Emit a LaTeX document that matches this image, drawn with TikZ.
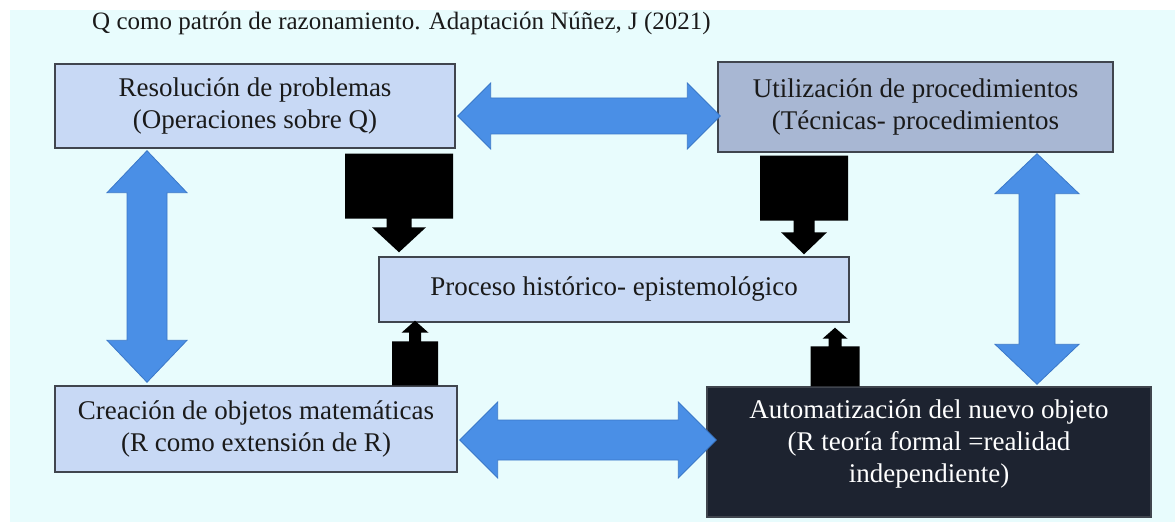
\documentclass[tikz,border=0pt]{standalone}
\usepackage{fontspec}
\setmainfont{Liberation Serif}
\usetikzlibrary{calc}
\definecolor{bgc}{HTML}{E8FCFD}
\definecolor{lightbox}{HTML}{C8D9F5}
\definecolor{graybox}{HTML}{A8B7D3}
\definecolor{darkbox}{HTML}{1D2330}
\definecolor{blueA}{HTML}{4A8FE6}
\definecolor{blueB}{HTML}{3B78C8}
\definecolor{edgec}{HTML}{40454E}
\definecolor{txtc}{HTML}{1A1A1A}
% horizontal double arrow: #1 left tip, #2 right tip, #3 shaft half, #4 head half, #5 head length
\newcommand{\hdbl}[5]{%
  \draw[dblarrow] let \p1=#1, \p2=#2 in
    (\x1,\y1) -- (\x1+#5,\y1+#4) -- (\x1+#5,\y1+#3) -- (\x2-#5,\y1+#3) -- (\x2-#5,\y1+#4)
    -- (\x2,\y1) -- (\x2-#5,\y1-#4) -- (\x2-#5,\y1-#3) -- (\x1+#5,\y1-#3) -- (\x1+#5,\y1-#4) -- cycle;}
% vertical double arrow: #1 top tip, #2 bottom tip
\newcommand{\vdbl}[5]{%
  \draw[dblarrow] let \p1=#1, \p2=#2 in
    (\x1,\y1) -- (\x1+#4,\y1-#5) -- (\x1+#3,\y1-#5) -- (\x1+#3,\y2+#5) -- (\x1+#4,\y2+#5)
    -- (\x1,\y2) -- (\x1-#4,\y2+#5) -- (\x1-#3,\y2+#5) -- (\x1-#3,\y1-#5) -- (\x1-#4,\y1-#5) -- cycle;}
% black block arrow: #1 source, #2 target, #3 direction (+1 up, -1 down, canvas),
% #4 block half, #5 block length, #6 stem half, #7 head half, #8 head length
\newcommand{\blk}[8]{%
  \fill[blkarrow] let \p1=#1, \p2=#2 in
    (\x1-#4,\y1) -- (\x1+#4,\y1) -- (\x1+#4,\y1+#3*#5) -- (\x1+#6,\y1+#3*#5)
    -- (\x1+#6,\y2-#3*#8) -- (\x1+#7,\y2-#3*#8) -- (\x1,\y2) -- (\x1-#7,\y2-#3*#8)
    -- (\x1-#6,\y2-#3*#8) -- (\x1-#6,\y1+#3*#5) -- (\x1-#4,\y1+#3*#5) -- cycle;}
\tikzset{
  boxstyle/.style={draw=edgec, line width=1.4pt, rectangle, inner sep=0pt, align=center,
    text=txtc, font=\fontsize{27}{32}\selectfont},
  dblarrow/.style={fill=blueA, draw=blueB, line width=0.8pt, line join=miter},
  blkarrow/.style={fill=black},
  titlestyle/.style={text=txtc, font=\fontsize{25}{30}\selectfont, inner sep=0pt}
}
\begin{document}
\begin{tikzpicture}[x=1pt,y=-1pt]
\useasboundingbox (0,0) rectangle (1175,526);
\fill[bgc] (10,10) rectangle (1175,522);
\node[titlestyle, anchor=base west] (title) at (92,30) {Q como patrón de razonamiento. Adaptación Núñez, J (2021)};
\node[boxstyle, fill=lightbox, minimum width=400pt, minimum height=84pt] (b1) at (255,106)
  {Resolución de problemas\\(Operaciones sobre Q)};
\node[boxstyle, fill=graybox, minimum width=395pt, minimum height=90pt] (b2) at (915.5,107)
  {Utilización de procedimientos\\(Técnicas- procedimientos};
\node[boxstyle, fill=lightbox, minimum width=470pt, minimum height=65pt] (c) at (614,289.5)
  {Proceso histórico- epistemológico};
\node[boxstyle, fill=lightbox, minimum width=402pt, minimum height=86pt] (b3) at (256,429)
  {Creación de objetos matemáticas\\(R como extensión de R)};
\node[boxstyle, fill=darkbox, minimum width=444pt, minimum height=130pt] (b4) at (929,452) {};
\node[boxstyle, draw=none, text=white] (b4t) at ($(b4.center)+(0,-8)$)
  {Automatización del nuevo objeto\\(R teoría formal =realidad\\independiente)};
% blue double arrows
\coordinate (ta) at ($(b1.east)+(2,10)$);
\coordinate (tb) at ($(b2.west)+(3,9)$);
\hdbl{(ta)}{(tb)}{18}{33}{33}
\coordinate (ba) at ($(b3.east)+(2,11)$);
\coordinate (bb) at ($(b4.west)+(10,-12)$);
\hdbl{(ba)}{(bb)}{20}{38}{38}
\coordinate (la) at ($(b1.south)+(-108,2)$);
\coordinate (lb) at ($(b3.north)+(-109,-3)$);
\vdbl{(la)}{(lb)}{20}{40}{42}
\coordinate (ra) at ($(b2.south)+(121.5,1)$);
\coordinate (rb) at ($(b4.north)+(108,-2)$);
\vdbl{(ra)}{(rb)}{18}{42}{40}
% black block arrows
\coordinate (d1s) at ($(b1.south)+(144,5)$);
\coordinate (d1t) at ($(c.north)+(-214,-4)$);
\blk{(d1s)}{(d1t)}{-1}{54}{65}{12.5}{27}{25}
\coordinate (d2s) at ($(b2.south)+(-111.5,3)$);
\coordinate (d2t) at ($(c.north)+(190,-2)$);
\blk{(d2s)}{(d2t)}{-1}{44}{65}{10.5}{23}{22}
\coordinate (u1s) at ($(b3.north)+(159,0)$);
\coordinate (u1t) at ($(c.south)+(-198,-2)$);
\blk{(u1s)}{(u1t)}{1}{23}{44}{6}{13.5}{12}
\coordinate (u2s) at ($(b4.north)+(-94,0)$);
\coordinate (u2t) at ($(c.south)+(221,5)$);
\blk{(u2s)}{(u2t)}{1}{24.5}{40}{6.5}{12.5}{11}
\end{tikzpicture}
\end{document}
